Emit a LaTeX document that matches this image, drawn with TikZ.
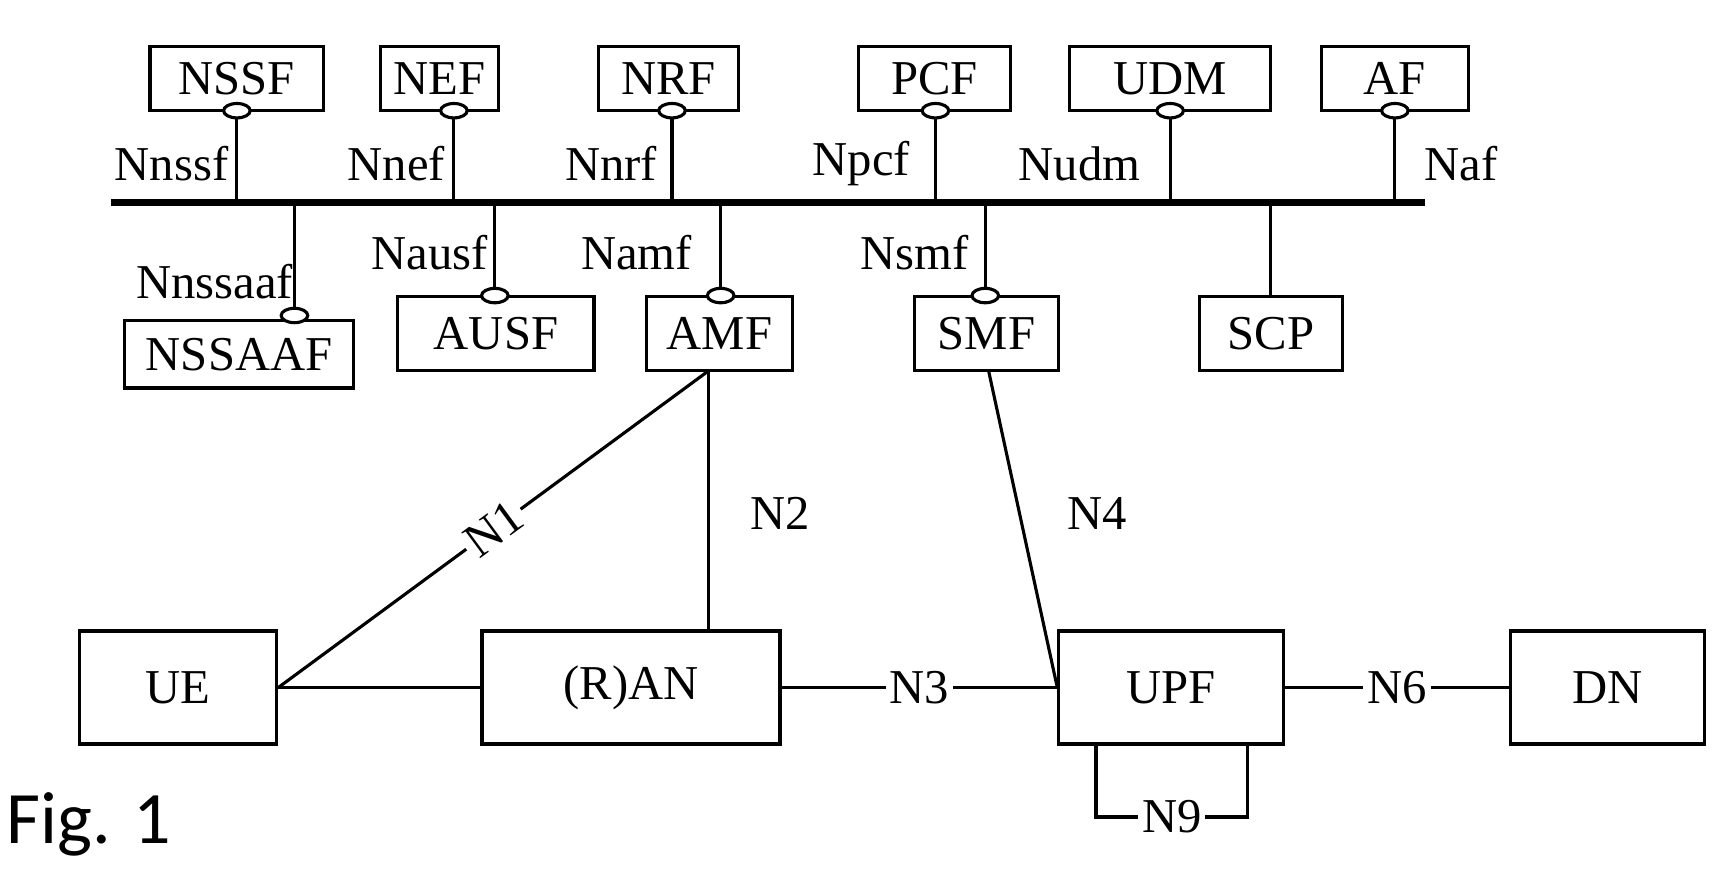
\documentclass[tikz,border=0pt]{standalone}
\usepackage{fontspec}
\setmainfont{Liberation Serif}
\setsansfont{Carlito}
\usetikzlibrary{positioning,calc,shapes.geometric}
\begin{document}
\begin{tikzpicture}[x=0.01cm, y=-0.01cm, thick,
  nf_style/.style={draw=black, rectangle, inner sep=0pt, font=\fontsize{12.5}{15}\selectfont},
  lbl_style/.style={font=\fontsize{12.5}{15}\selectfont},
  port_style/.style={draw=black, fill=white, ellipse, minimum width=0.24cm, minimum height=0.13cm, inner sep=0pt},
  bus_style/.style={draw=black, line width=2pt}]
  \useasboundingbox (0,0) rectangle (1560,789);
  % upper network functions
  \node (nssf) [nf_style, minimum width=1.57cm, minimum height=0.58cm] at (214,71) {NSSF};
  \node (nef)  [nf_style, minimum width=1.06cm, minimum height=0.58cm] at (397,71) {NEF};
  \node (nrf)  [nf_style, minimum width=1.26cm, minimum height=0.58cm] at (604,71) {NRF};
  \node (pcf)  [nf_style, minimum width=1.37cm, minimum height=0.58cm] at (844,71) {PCF};
  \node (udm)  [nf_style, minimum width=1.81cm, minimum height=0.58cm] at (1057,71) {UDM};
  \node (af)   [nf_style, minimum width=1.33cm, minimum height=0.58cm] at (1260,71) {AF};
  % lower network functions
  \node (nssaaf) [nf_style, minimum width=2.07cm, minimum height=0.61cm] at (216,320) {NSSAAF};
  \node (ausf) [nf_style, minimum width=1.77cm, minimum height=0.67cm] at (448,301) {AUSF};
  \node (amf)  [nf_style, minimum width=1.32cm, minimum height=0.67cm] at (650,301) {AMF};
  \node (smf)  [nf_style, minimum width=1.30cm, minimum height=0.67cm] at (891,301) {SMF};
  \node (scp)  [nf_style, minimum width=1.29cm, minimum height=0.67cm] at (1148,301) {SCP};
  % user plane
  \node (ue)  [nf_style, minimum width=1.78cm, minimum height=1.02cm] at (161,621) {UE};
  \node (ran) [nf_style, minimum width=2.69cm, minimum height=1.02cm] at (570,621) {(R)AN};
  \node (upf) [nf_style, minimum width=2.03cm, minimum height=1.02cm] at (1058,621) {UPF};
  \node (dn)  [nf_style, minimum width=1.75cm, minimum height=1.02cm] at (1452,621) {DN};
  % service bus
  \coordinate (busL) at (100,183);
  \coordinate (busR) at (1287,183);
  \draw [bus_style] (busL) -- (busR);
  \foreach \nf/\x in {nssf/214, nef/410, nrf/607, pcf/845, udm/1057, af/1260} {
    \coordinate (\nf port) at (\x,100);
    \draw (\nf port) -- (\x,183);
    \node [port_style] at (\nf port) {};
  }
  \draw (266,183) -- (266,290); \node [port_style] at (266,285) {};
  \draw (447,183) -- (447,268); \node [port_style] at (447,267) {};
  \draw (651,183) -- (651,268); \node [port_style] at (651,267) {};
  \draw (890,183) -- (890,268); \node [port_style] at (890,267) {};
  \draw (1148,183) -- (scp.north);
  % service interface labels
  \node [lbl_style] at (155,148) {Nnssf};
  \node [lbl_style] at (358,148) {Nnef};
  \node [lbl_style] at (552,148) {Nnrf};
  \node [lbl_style] at (778,148) {Npcf};
  \node [lbl_style] at (975,148) {Nudm};
  \node [lbl_style] at (1320,148) {Naf};
  \node [lbl_style] at (194,254) {Nnssaaf};
  \node [lbl_style] at (388,228) {Nausf};
  \node [lbl_style] at (575,228) {Namf};
  \node [lbl_style] at (826,228) {Nsmf};
  % reference points
  \coordinate (amfB) at (640,335);
  \coordinate (smfB) at (893,335);
  \draw (ue.east) -- (amfB) node [lbl_style, pos=0.5, sloped, fill=white, inner sep=1pt] {N1};
  \draw (amfB) -- (ran.north -| amfB) node [lbl_style, pos=0.55, right=0.25cm] {N2};
  \draw (smfB) -- (upf.west) node [lbl_style, pos=0.45, right=0.3cm] {N4};
  \draw (ue.east) -- (ran.west);
  \draw (ran.east) -- (upf.west) node [lbl_style, midway, fill=white, inner sep=1pt] {N3};
  \draw (upf.east) -- (dn.west) node [lbl_style, midway, fill=white, inner sep=1pt] {N6};
  \draw (990,672) -- (990,738) -- (1127,738) node [lbl_style, midway, fill=white, inner sep=1pt] {N9} -- (1127,672);
  \node (fig) [font=\sffamily\fontsize{19}{23}\selectfont] at (80,745) {Fig. 1};
\end{tikzpicture}
\end{document}
